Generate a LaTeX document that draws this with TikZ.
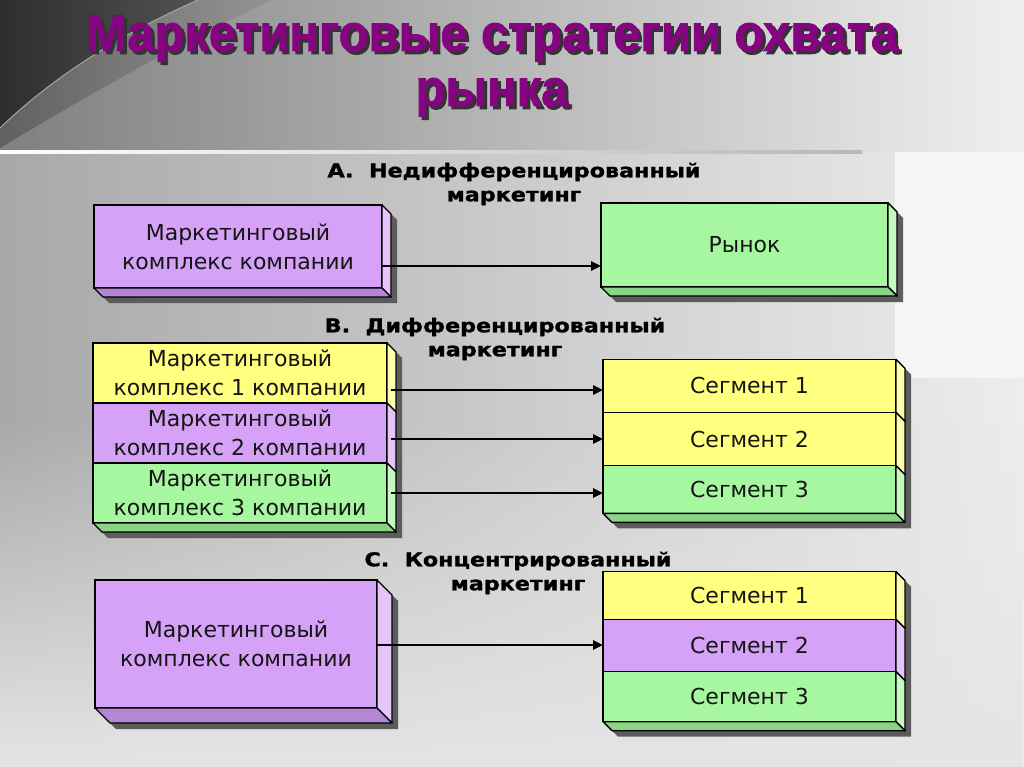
\documentclass[tikz,border=0pt]{standalone}
\usepackage{fontspec}
\usetikzlibrary{calc,arrows.meta,fadings}
\newfontfamily\boxfont{DejaVu Sans}
\newfontfamily\labfont[BoldFeatures={FakeBold=1.2}]{DejaVu Sans}
\newfontfamily\titfont[BoldFeatures={FakeBold=1.6}]{Liberation Sans}
\definecolor{purpF}{HTML}{D6A2F7}
\definecolor{purpS}{HTML}{E4C4F9}
\definecolor{purpB}{HTML}{B585D6}
\definecolor{yelF}{HTML}{FFFF80}
\definecolor{yelS}{HTML}{FFFFAE}
\definecolor{yelB}{HTML}{D6D65E}
\definecolor{grnF}{HTML}{A6F7A0}
\definecolor{grnS}{HTML}{C6F9C0}
\definecolor{grnB}{HTML}{8AD486}
\definecolor{shadowc}{HTML}{5C5C5C}
\definecolor{txtc}{HTML}{151515}
\definecolor{titc}{HTML}{85047F}
\definecolor{bgbase}{HTML}{E8E8E8}
\pgfdeclarelayer{bg}\pgfdeclarelayer{shd}
\pgfsetlayers{bg,shd,main}
\tikzset{
  front/.style={draw=black, line width=1.4pt, rectangle, inner sep=0pt, outer sep=0pt,
    font=\boxfont\fontsize{22}{29}\selectfont, text=txtc, align=center},
  seclabel/.style={font=\labfont\bfseries\fontsize{19}{24}\selectfont, text=black, align=center},
  titlefont/.style={font=\titfont\bfseries\fontsize{52}{55}\selectfont, align=center},
  arr/.style={line width=2.5pt, -{Triangle[length=10pt,width=9pt]}},
  face/.style={draw=black, line width=1.4pt, line join=round},
}
\newcommand\sidef[3]{\filldraw[face, fill=#3] (#1.north east) -- ($(#1.north east)+(#2,#2)$) -- ($(#1.south east)+(#2,#2)$) -- (#1.south east) -- cycle;}
\newcommand\botf[3]{\filldraw[face, fill=#3] (#1.south west) -- (#1.south east) -- ($(#1.south east)+(#2,#2)$) -- ($(#1.south west)+(#2,#2)$) -- cycle;}
\newcommand\shadf[2]{\begin{pgfonlayer}{shd}\fill[shadowc] ($(#1.north west)+(6,6)$) -- ($(#1.north east)+(6,6)$) -- ($(#1.north east)+(#2+6,#2+6)$) -- ($(#1.south east)+(#2+6,#2+6)$) -- ($(#1.south west)+(#2+6,#2+6)$) -- ($(#1.south west)+(6,6)$) -- cycle;\end{pgfonlayer}}
\newcommand\tsc[1]{\scalebox{0.94}[1]{#1}}
\newcommand\lsc[1]{\scalebox{1.17}[1]{#1}}
\begin{document}
\begin{tikzpicture}[x=1pt,y=-1pt]
\useasboundingbox (0,0) rectangle (1024,767);
% ---------- background ----------
\begin{pgfonlayer}{bg}
\fill[bgbase] (0,0) rectangle (1024,767);
\shade[left color=black!34, middle color=black!11, right color=black!7] (0,152) rectangle (1024,767);
\fill[black!10, path fading=north] (0,420) rectangle (1024,767);
\fill[black!4] (895,152) rectangle (1024,378);
\shade[left color=black!50, middle color=black!13, right color=black!6] (0,0) rectangle (1024,152);
\shade[left color=black!62, right color=black!42] (0,0) -- (272,0) .. controls (175,45) and (80,100) .. (0,148) -- cycle;
\shade[left color=black!82, right color=black!68] (0,0) -- (198,0) .. controls (125,32) and (55,75) .. (0,128) -- cycle;
\draw[black!35, line width=1pt] (198,0) .. controls (125,32) and (55,75) .. (0,128);
\shade[left color=white, right color=black!28] (0,151) rectangle (862,153.5);
\end{pgfonlayer}
% ---------- title ----------
\node[titlefont, text=black!80] at (495,69)
  {\tsc{Маркетинговые стратегии охвата}\\\tsc{рынка}};
\node[titlefont, text=titc] (title) at (492,66)
  {\tsc{Маркетинговые стратегии охвата}\\\tsc{рынка}};
% ---------- section labels ----------
\node[seclabel] (labA) at (514,184) {\lsc{A.\ \ Недифференцированный}\\\lsc{маркетинг}};
\node[seclabel] (labB) at (495,339) {\lsc{B.\ \ Дифференцированный}\\\lsc{маркетинг}};
\node[seclabel] (labC) at (518,573) {\lsc{C.\ \ Концентрированный}\\\lsc{маркетинг}};
% ---------- A ----------
\node[front, fill=purpF, minimum width=288pt, minimum height=83pt] (al) at (238,246.5) {Маркетинговый\\комплекс компании};
\shadf{al}{9}\sidef{al}{9}{purpS}\botf{al}{9}{purpB}
\node[front, fill=grnF, minimum width=287pt, minimum height=84pt] (ar) at (744.5,245) {Рынок};
\shadf{ar}{9}\sidef{ar}{9}{grnS}\botf{ar}{9}{grnB}
\coordinate (pa) at ($(al.east)+(0,19.5)$);
\draw[arr] (pa) -- (pa -| ar.west);
% ---------- B ----------
\node[front, fill=yelF, minimum width=294pt, minimum height=60pt] (bl1) at (240,373) {Маркетинговый\\комплекс 1 компании};
\node[front, fill=purpF, minimum width=294pt, minimum height=60pt] (bl2) at (240,433) {Маркетинговый\\комплекс 2 компании};
\node[front, fill=grnF, minimum width=294pt, minimum height=60pt] (bl3) at (240,493) {Маркетинговый\\комплекс 3 компании};
\shadf{bl1}{9}\shadf{bl2}{9}\shadf{bl3}{9}
\sidef{bl1}{9}{yelS}\sidef{bl2}{9}{purpS}\sidef{bl3}{9}{grnS}\botf{bl3}{9}{grnB}
\node[front, fill=yelF, minimum width=293pt, minimum height=53pt] (br1) at (749.5,385.8) {Сегмент 1};
\node[front, fill=yelF, minimum width=293pt, minimum height=53.4pt] (br2) at (749.5,439) {Сегмент 2};
\node[front, fill=grnF, minimum width=293pt, minimum height=47.6pt] (br3) at (749.5,489.5) {Сегмент 3};
\shadf{br1}{9}\shadf{br2}{9}\shadf{br3}{9}
\sidef{br1}{9}{yelS}\sidef{br2}{9}{yelS}\sidef{br3}{9}{grnS}\botf{br3}{9}{grnB}
\coordinate (pb1) at ($(bl1.east)+(4,17)$);
\coordinate (pb2) at ($(bl2.east)+(4,6)$);
\coordinate (pb3) at ($(bl3.east)+(4,0)$);
\draw[arr] (pb1) -- (pb1 -| br1.west);
\draw[arr] (pb2) -- (pb2 -| br2.west);
\draw[arr] (pb3) -- (pb3 -| br3.west);
% ---------- C ----------
\node[front, fill=purpF, minimum width=282pt, minimum height=128pt] (cl) at (236,644) {Маркетинговый\\комплекс компании};
\shadf{cl}{15}\sidef{cl}{15}{purpS}\botf{cl}{15}{purpB}
\node[front, fill=yelF, minimum width=293pt, minimum height=47.6pt] (cr1) at (749.5,595.5) {Сегмент 1};
\node[front, fill=purpF, minimum width=293pt, minimum height=52.4pt] (cr2) at (749.5,645.5) {Сегмент 2};
\node[front, fill=grnF, minimum width=293pt, minimum height=50pt] (cr3) at (749.5,696.7) {Сегмент 3};
\shadf{cr1}{9}\shadf{cr2}{9}\shadf{cr3}{9}
\sidef{cr1}{9}{yelS}\sidef{cr2}{9}{purpS}\sidef{cr3}{9}{grnS}\botf{cr3}{9}{grnB}
\coordinate (pc) at ($(cl.east)+(0,1)$);
\draw[arr] (pc) -- (pc -| cr2.west);
\end{tikzpicture}
\end{document}
